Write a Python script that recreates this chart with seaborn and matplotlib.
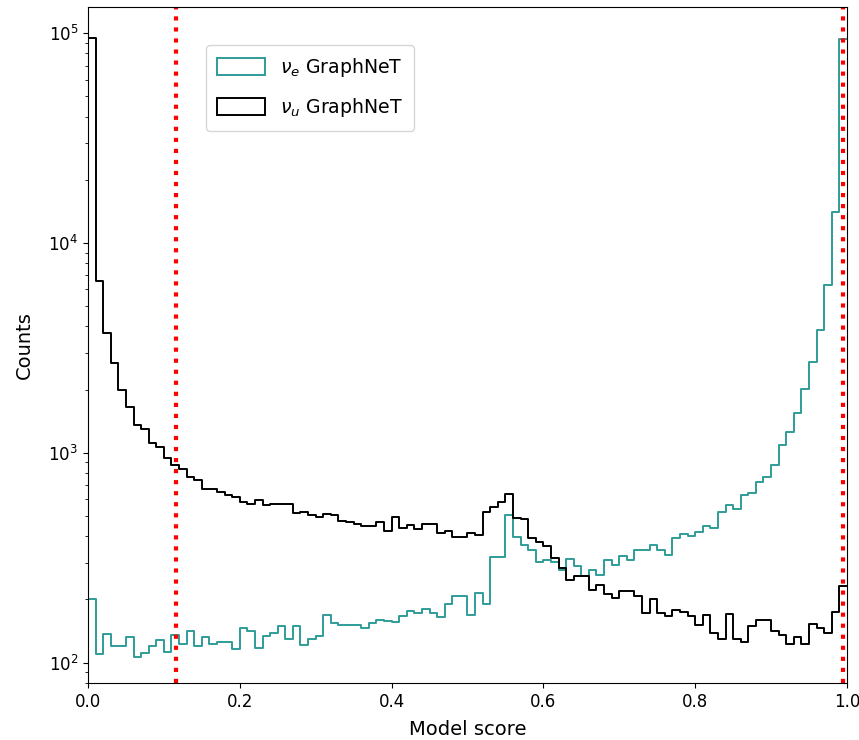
import numpy as np
import pandas as pd
import matplotlib
matplotlib.use("Agg")
import matplotlib.pyplot as plt
from matplotlib.patches import Patch
import seaborn as sns

# ---- data ----
n_bins = 100
score_range = (0.0, 1.0)

nu_e_counts = [
    202, 110, 137, 120, 120, 132, 106, 111, 120, 128,
    113, 135, 123, 141, 120, 133, 123, 126, 126, 116,
    147, 141, 118, 134, 138, 149, 130, 149, 121, 130,
    134, 168, 154, 152, 152, 152, 147, 155, 159, 158,
    156, 166, 177, 172, 180, 173, 165, 191, 207, 207,
    169, 215, 191, 320, 320, 507, 399, 365, 345, 303,
    309, 303, 277, 313, 290, 258, 277, 262, 309, 293,
    324, 309, 345, 345, 362, 345, 327, 394, 410, 401,
    420, 446, 440, 525, 563, 542, 628, 646, 722, 763,
    874, 1092, 1253, 1540, 2020, 2700, 3850, 6300, 14100, 93400,
]

nu_u_counts = [
    95000, 6600, 3720, 2670, 2000, 1650, 1360, 1300, 1110, 1060,
    944, 877, 840, 771, 743, 674, 674, 648, 628, 619,
    582, 571, 597, 565, 570, 570, 570, 516, 525, 507,
    492, 510, 503, 471, 466, 457, 449, 449, 466, 422,
    494, 438, 451, 435, 457, 457, 415, 422, 397, 397,
    417, 407, 525, 549, 586, 638, 489, 482, 393, 374,
    358, 317, 282, 248, 260, 258, 223, 235, 213, 203,
    220, 220, 208, 173, 200, 173, 166, 179, 175, 166,
    152, 169, 139, 129, 171, 129, 126, 149, 160, 160,
    141, 136, 123, 133, 123, 153, 147, 139, 175, 231,
]

labels = [r"$\nu_e$ GraphNeT", r"$\nu_u$ GraphNeT"]
cut_lines = [0.116, 0.995]

edges = np.linspace(score_range[0], score_range[1], n_bins + 1)
centers = 0.5 * (edges[:-1] + edges[1:])
df_e = pd.DataFrame({"score": centers, "count": nu_e_counts})
df_u = pd.DataFrame({"score": centers, "count": nu_u_counts})

teal = "#2f9c98"

fig = plt.figure(figsize=(8.59, 7.40), dpi=100)
ax = fig.add_axes([0.1024, 0.077, 0.8836, 0.9135])

sns.histplot(data=df_e, x="score", weights="count", bins=n_bins,
             binrange=score_range, element="step", fill=False,
             color=teal, linewidth=1.4, ax=ax)
sns.histplot(data=df_u, x="score", weights="count", bins=n_bins,
             binrange=score_range, element="step", fill=False,
             color="black", linewidth=1.4, ax=ax)

for xv in cut_lines:
    ax.axvline(xv, color="red", linestyle=":", linewidth=3)

ax.set_yscale("log")
ax.set_xlim(0, 1)
ax.set_ylim(80, 133000)
ax.set_xticks([0.0, 0.2, 0.4, 0.6, 0.8, 1.0])
ax.set_xticklabels(["0.0", "0.2", "0.4", "0.6", "0.8", "1.0"])
ax.tick_params(axis="both", labelsize=12)
ax.set_xlabel("Model score", fontsize=14, labelpad=7)
ax.set_ylabel("Counts", fontsize=14, labelpad=10)

handles = [Patch(facecolor="none", edgecolor=teal, linewidth=1.4),
           Patch(facecolor="none", edgecolor="black", linewidth=1.4)]
ax.legend(handles, labels, loc="upper left", bbox_to_anchor=(0.143, 0.958),
          fontsize=13.6, handlelength=2.5, handleheight=1.0,
          labelspacing=0.9, borderpad=0.6)

fig.savefig("out.png", dpi=100)
